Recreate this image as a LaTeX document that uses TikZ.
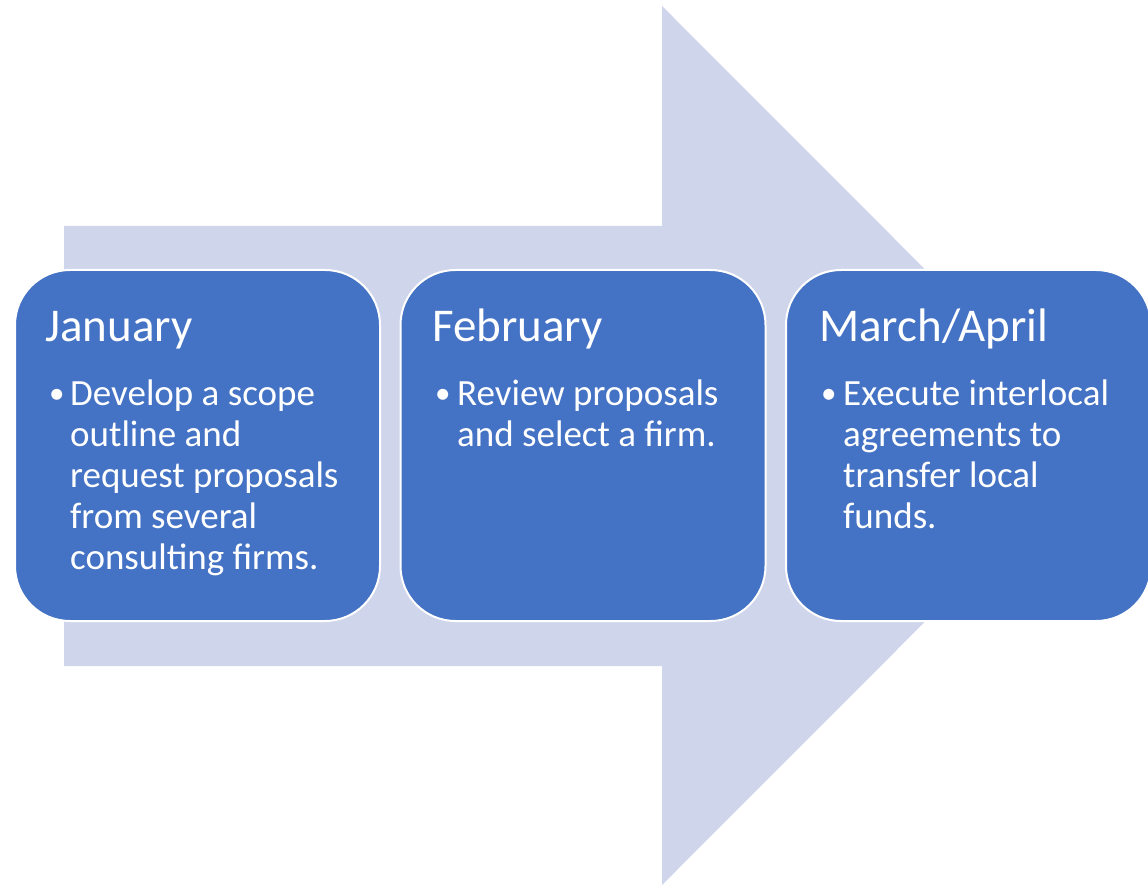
\documentclass[tikz,border=0pt]{standalone}
\usepackage{fontspec}
\setmainfont{Carlito}
\usetikzlibrary{positioning}

\definecolor{stageblue}{HTML}{4472C4}
\definecolor{arrowblue}{HTML}{CFD5EA}

\tikzset{
  stage/.style={
    rectangle,
    rounded corners=55pt,
    draw=white,
    line width=2pt,
    fill=stageblue,
    minimum width=365pt,
    minimum height=351pt,
  },
  stage title/.style={
    text=white,
    inner sep=0pt,
    anchor=base west,
    font=\fontsize{47}{56}\selectfont,
  },
  stage text/.style={
    text=white,
    inner sep=0pt,
    anchor=base west,
    font=\fontsize{37}{41}\selectfont,
  },
  stage bullet/.style={
    stage text,
    font=\fontsize{31}{41}\selectfont,
  },
}

\newcommand{\stagelines}[1]{\parbox[t]{300pt}{\raggedright #1}}

\begin{document}
\begin{tikzpicture}[x=1pt, y=-1pt]

      \useasboundingbox (0,0) rectangle (1148,885);

      % the big arrow behind
      \fill[arrowblue] (64,226) -- (662,226) -- (662,6) -- (1101,445.5)
        -- (662,885) -- (662,666) -- (64,666) -- cycle;

      \node[stage](jan) at (197.5,445.5) {};
      \node[stage](feb) at (583,445.5) {};
      \node[stage](mar) at (968.5,445.5) {};

      \node[stage title](jan title) at (45,341) {January};
      \node[stage title](feb title) at (432,341) {February};
      \node[stage title](mar title) at (819,341) {March/April};

      \foreach \x/\s in {49/jan, 435/feb, 821/mar} {
          \node[stage bullet](\s bullet) at (\x,403) {•};
      };

      \node[stage text](jan text) at (70,405)
        {\stagelines{Develop a scope\\outline and\\request proposals\\from several\\consulting firms.}};
      \node[stage text](feb text) at (457,405)
        {\stagelines{Review proposals\\and select a firm.}};
      \node[stage text](mar text) at (843,405)
        {\stagelines{Execute interlocal\\agreements to\\transfer local\\funds.}};

    \end{tikzpicture}
\end{document}
